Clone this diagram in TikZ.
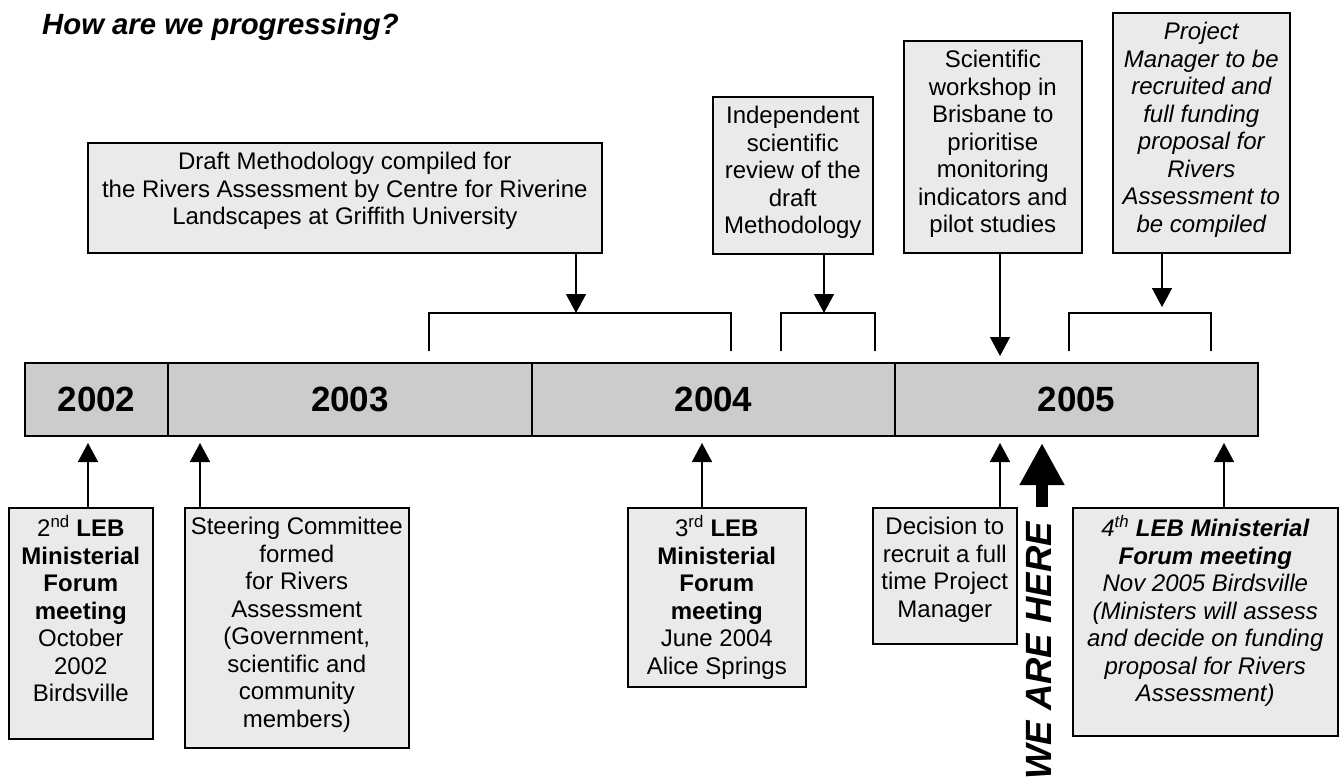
\documentclass[tikz,border=0pt]{standalone}
\usepackage{fontspec}
\setmainfont{Liberation Sans}
\usetikzlibrary{arrows.meta,calc}
\definecolor{boxfill}{HTML}{EAEAEA}
\definecolor{barfill}{HTML}{CCCCCC}
\begin{document}
\begin{tikzpicture}[x=1pt,y=1pt,
  evbox/.style={draw=black, line width=1.6pt, fill=boxfill, inner sep=0pt, anchor=north west},
  evtext/.style={anchor=north, inner sep=0pt, align=center, font=\fontsize{24}{27.5}\selectfont},
  yearseg/.style={draw=black, line width=2pt, fill=barfill, inner sep=0pt, minimum height=73pt, font=\fontsize{35}{40}\selectfont\bfseries},
  arr/.style={line width=1.5pt, -{Triangle[width=20pt,length=19pt]}},
  brk/.style={line width=1.8pt},
  bigarr/.style={line width=12pt, -{Triangle[width=42pt,length=42pt]}},
  ]
\useasboundingbox (0,0) rectangle (1340,-776);

% title
\node[anchor=base west, inner sep=0pt, font=\fontsize{29.3}{35}\selectfont\bfseries\itshape] (title) at (42,-35) {How are we progressing?};

% timeline bar
\node[yearseg, minimum width=143pt] (y2002) at (96.5,-399.5) {2002};
\node[yearseg, minimum width=364pt] (y2003) at (350,-399.5) {2003};
\node[yearseg, minimum width=363pt] (y2004) at (713.5,-399.5) {2004};
\node[yearseg, minimum width=363pt] (y2005) at (1076.5,-399.5) {2005};

% top boxes
\node[evbox, minimum width=514pt, minimum height=110pt] (draft) at (87,-142) {};
\node[evtext] (draftT) at ($(draft.north)+(0,-8.25)$) {\strut Draft Methodology compiled for\\the Rivers Assessment by Centre for Riverine\\Landscapes at Griffith University};

\node[evbox, minimum width=160pt, minimum height=157pt] (indep) at (712,-96) {};
\node[evtext] (indepT) at ($(indep.north)+(0,-8.25)$) {\strut Independent\\scientific\\review of the\\draft\\Methodology};

\node[evbox, minimum width=178pt, minimum height=212pt] (workshop) at (903,-40) {};
\node[evtext] (workshopT) at ($(workshop.north)+(0,-8.25)$) {\strut Scientific\\workshop in\\Brisbane to\\prioritise\\monitoring\\indicators and\\pilot studies};

\node[evbox, minimum width=177pt, minimum height=240pt] (project) at (1112,-12) {};
\node[evtext, font=\fontsize{24}{27.5}\selectfont\itshape] (projectT) at ($(project.north)+(0,-8.25)$) {\strut Project\\Manager to be\\recruited and\\full funding\\proposal for\\Rivers\\Assessment to\\be compiled};

% brackets
\coordinate (b1) at (576,-313);
\coordinate (b1l) at (429,-351);
\coordinate (b1r) at (731,-351);
\draw[brk] (b1l) |- (b1r |- b1) -- (b1r);
\coordinate (b2) at (824,-313);
\coordinate (b2l) at (781,-351);
\coordinate (b2r) at (875,-351);
\draw[brk] (b2l) |- (b2r |- b2) -- (b2r);
\coordinate (b3) at (1162,-313);
\coordinate (b3l) at (1069,-351);
\coordinate (b3r) at (1211,-351);
\draw[brk] (b3l) |- (b3r |- b3) -- (b3r);

% top arrows
\draw[arr] (draft.south -| b1) -- (b1);
\draw[arr] (indep.south -| b2) -- (b2);
\coordinate (ws) at (1000,-356);
\draw[arr] (workshop.south -| ws) -- (ws);
\coordinate (pj) at (1162,-307);
\draw[arr] (project.south -| pj) -- (pj);

% bottom boxes
\node[evbox, minimum width=144pt, minimum height=231pt] (leb2) at (8,-507) {};
\node[evtext] (leb2T) at ($(leb2.north)+(0,-8.25)$) {\strut 2\textsuperscript{nd} \textbf{LEB}\\\textbf{Ministerial}\\\textbf{Forum}\\\textbf{meeting}\\October\\2002\\Birdsville};

\node[evbox, minimum width=224pt, minimum height=240pt] (steer) at (184,-507) {};
\node[evtext] (steerT) at ($(steer.north)+(0,-8.25)$) {\strut Steering Committee\\formed\\for Rivers\\Assessment\\(Government,\\scientific and\\community\\members)};

\node[evbox, minimum width=178pt, minimum height=179pt] (leb3) at (627,-507) {};
\node[evtext] (leb3T) at ($(leb3.north)+(0,-8.25)$) {\strut 3\textsuperscript{rd} \textbf{LEB}\\\textbf{Ministerial}\\\textbf{Forum}\\\textbf{meeting}\\June 2004\\Alice Springs};

\node[evbox, minimum width=144pt, minimum height=136pt] (decision) at (872,-507) {};
\node[evtext] (decisionT) at ($(decision.north)+(0,-8.25)$) {\strut Decision to\\recruit a full\\time Project\\Manager};

\node[evbox, minimum width=265pt, minimum height=228pt] (leb4) at (1072,-507) {};
\node[evtext, font=\fontsize{24}{27.5}\selectfont\itshape] (leb4T) at ($(leb4.north)+(0,-8.25)$) {\strut 4\textsuperscript{th} \textbf{LEB Ministerial}\\\textbf{Forum meeting}\\Nov 2005 Birdsville\\(Ministers will assess\\and decide on funding\\proposal for Rivers\\Assessment)};

% bottom arrows
\coordinate (t1) at (88,-443);
\draw[arr] (leb2.north -| t1) -- (t1);
\coordinate (t2) at (200,-443);
\draw[arr] (steer.north -| t2) -- (t2);
\coordinate (t3) at (702,-443);
\draw[arr] (leb3.north -| t3) -- (t3);
\coordinate (t4) at (1000,-443);
\draw[arr] (decision.north -| t4) -- (t4);
\coordinate (t5) at (1224,-443);
\draw[arr] (leb4.north -| t5) -- (t5);

% we are here
\coordinate (w0) at (1042,-507);
\coordinate (w1) at (1042,-443);
\draw[bigarr] (w0) -- (w1);
\node[rotate=90, anchor=base east, inner sep=0pt, font=\fontsize{36.5}{40}\selectfont\bfseries\itshape] (wah) at (1051,-522) {WE ARE HERE};
\end{tikzpicture}
\end{document}
